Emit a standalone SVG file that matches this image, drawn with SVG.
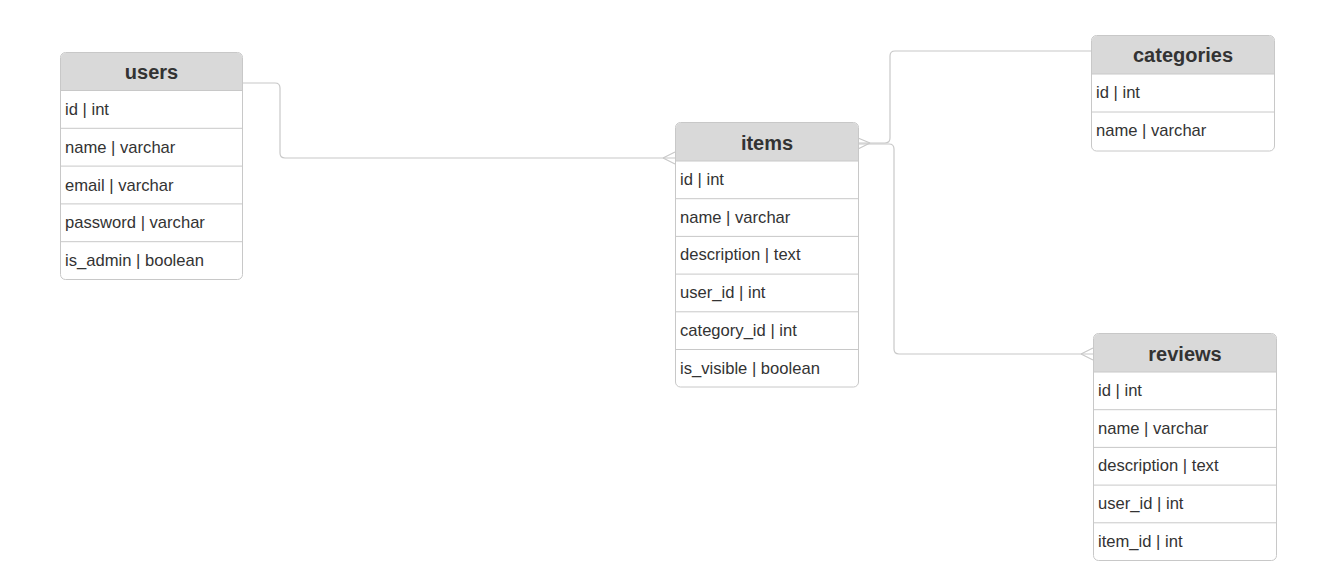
<svg xmlns="http://www.w3.org/2000/svg" width="1322" height="586" viewBox="0 0 1322 586">
<style>
.box{fill:#fff;stroke:#c8c8c8;stroke-width:1}
.hdr{fill:#d9d9d9}
.sep{stroke:#c8c8c8;stroke-width:1}
.title{font-family:"Liberation Sans",Arial,sans-serif;font-size:20px;font-weight:bold;fill:#333;text-anchor:middle}
.row{font-family:"Liberation Sans",Arial,sans-serif;font-size:16.6px;fill:#333}
.conn{fill:none;stroke:#c8c8c8;stroke-width:1.2}
</style>
<rect width="1322" height="586" fill="#fff"/>
<g id="connectors">
<path class="conn" d="M242,83 H275 Q280,83 280,88 V153 Q280,158 285,158 H675"/>
<path class="conn" d="M663,158 L675,152 M663,158 L675,164"/>
<path class="conn" d="M1091,51 H895 Q890,51 890,56 V138 Q890,143 885,143 H858"/>
<path class="conn" d="M870,143 L858,138 M870,143 L858,149"/>
<path class="conn" d="M858,144 H889 Q894,144 894,149 V349 Q894,354 899,354 H1093"/>
<path class="conn" d="M1081,354 L1093,348 M1081,354 L1093,360"/>
</g>
<g id="users" transform="translate(60.5,52.5)">
<rect class="box" x="0" y="0" width="182" height="227" rx="5"/>
<path class="hdr" d="M0.5,38 V5 Q0.5,0.5 5,0.5 H177 Q181.5,0.5 181.5,5 V38 Z"/>
<line class="sep" x1="0" y1="38" x2="182" y2="38"/>
<line class="sep" x1="0" y1="75.8" x2="182" y2="75.8"/>
<line class="sep" x1="0" y1="113.6" x2="182" y2="113.6"/>
<line class="sep" x1="0" y1="151.4" x2="182" y2="151.4"/>
<line class="sep" x1="0" y1="189.2" x2="182" y2="189.2"/>
<text class="title" x="91" y="26.5">users</text>
<text class="row" x="4.5" y="62.5">id | int</text>
<text class="row" x="4.5" y="100.3">name | varchar</text>
<text class="row" x="4.5" y="138.1">email | varchar</text>
<text class="row" x="4.5" y="175.9">password | varchar</text>
<text class="row" x="4.5" y="213.7">is_admin | boolean</text>
</g>
<g id="items" transform="translate(675.5,122.5)">
<rect class="box" x="0" y="0" width="183" height="264.5" rx="5"/>
<path class="hdr" d="M0.5,38.5 V5 Q0.5,0.5 5,0.5 H178 Q182.5,0.5 182.5,5 V38.5 Z"/>
<line class="sep" x1="0" y1="38.5" x2="183" y2="38.5"/>
<line class="sep" x1="0" y1="76.2" x2="183" y2="76.2"/>
<line class="sep" x1="0" y1="113.9" x2="183" y2="113.9"/>
<line class="sep" x1="0" y1="151.6" x2="183" y2="151.6"/>
<line class="sep" x1="0" y1="189.3" x2="183" y2="189.3"/>
<line class="sep" x1="0" y1="227" x2="183" y2="227"/>
<text class="title" x="91.5" y="27">items</text>
<text class="row" x="4.5" y="62.5">id | int</text>
<text class="row" x="4.5" y="100.2">name | varchar</text>
<text class="row" x="4.5" y="137.9">description | text</text>
<text class="row" x="4.5" y="175.6">user_id | int</text>
<text class="row" x="4.5" y="213.3">category_id | int</text>
<text class="row" x="4.5" y="251">is_visible | boolean</text>
</g>
<g id="categories" transform="translate(1091.5,35.5)">
<rect class="box" x="0" y="0" width="183" height="115.5" rx="5"/>
<path class="hdr" d="M0.5,38.5 V5 Q0.5,0.5 5,0.5 H178 Q182.5,0.5 182.5,5 V38.5 Z"/>
<line class="sep" x1="0" y1="38.5" x2="183" y2="38.5"/>
<line class="sep" x1="0" y1="76.5" x2="183" y2="76.5"/>
<text class="title" x="91.5" y="26.5">categories</text>
<text class="row" x="4.5" y="62.5">id | int</text>
<text class="row" x="4.5" y="100">name | varchar</text>
</g>
<g id="reviews" transform="translate(1093.5,333.5)">
<rect class="box" x="0" y="0" width="183" height="227" rx="5"/>
<path class="hdr" d="M0.5,38.5 V5 Q0.5,0.5 5,0.5 H178 Q182.5,0.5 182.5,5 V38.5 Z"/>
<line class="sep" x1="0" y1="38.5" x2="183" y2="38.5"/>
<line class="sep" x1="0" y1="76.2" x2="183" y2="76.2"/>
<line class="sep" x1="0" y1="113.9" x2="183" y2="113.9"/>
<line class="sep" x1="0" y1="151.6" x2="183" y2="151.6"/>
<line class="sep" x1="0" y1="189.3" x2="183" y2="189.3"/>
<text class="title" x="91.5" y="27">reviews</text>
<text class="row" x="4.5" y="62.5">id | int</text>
<text class="row" x="4.5" y="100.2">name | varchar</text>
<text class="row" x="4.5" y="137.9">description | text</text>
<text class="row" x="4.5" y="175.6">user_id | int</text>
<text class="row" x="4.5" y="213.3">item_id | int</text>
</g>
</svg>
